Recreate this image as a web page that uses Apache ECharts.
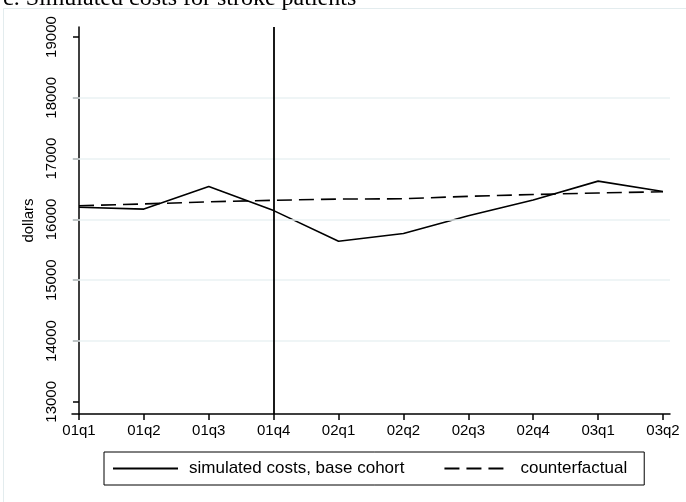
<!DOCTYPE html>
<html>
<head>
<meta charset="utf-8">
<script src="https://cdn.jsdelivr.net/npm/echarts@6/dist/echarts.min.js"></script>
<style>
  html, body { margin: 0; padding: 0; background: #fff; }
  #chart { width: 686px; height: 502px; }
</style>
</head>
<body>
<div id="chart"></div>
<script>
// 季度
var quarters = ['01q1', '01q2', '01q3', '01q4', '02q1', '02q2', '02q3', '02q4', '03q1', '03q2'];
// 模拟成本（基准队列）
var simulated = [16200, 16170, 16540, 16145, 15640, 15770, 16060, 16320, 16630, 16460];
// 反事实
var counterfactual = [16225, 16255, 16290, 16315, 16335, 16340, 16380, 16410, 16435, 16455];
// y轴刻度 / 网格线
var yTicks = [13000, 14000, 15000, 16000, 17000, 18000, 19000];
var gridValues = [14000, 15000, 16000, 17000, 18000];
// 政策线位置
var policyQuarter = '01q4';

var font = 'Liberation Sans, Arial, sans-serif';
var idx = quarters.map(function (q, i) { return i; });

function toPairs(arr) {
    return arr.map(function (v, i) { return [i, v]; });
}

var myChart = echarts.init(document.getElementById('chart'));
var option = {
    backgroundColor: '#fff',
    animation: false,
    title: {
        text: 'c. Simulated costs for stroke patients',
        left: -2,
        top: -18,
        textStyle: {
            fontFamily: 'Liberation Serif, Times New Roman, serif',
            fontSize: 24,
            fontWeight: 'normal',
            color: '#000'
        }
    },
    graphic: [{
        type: 'rect',
        shape: { x: 3.5, y: 8.5, width: 700, height: 520 },
        style: { fill: 'none', stroke: '#e3ecee', lineWidth: 1 },
        z: -1
    }],
    legend: {
        left: 104,
        top: 452,
        padding: [8, 17, 8, 8],
        borderColor: '#000',
        borderWidth: 1,
        itemWidth: 65,
        itemHeight: 17,
        itemGap: 39,
        itemStyle: { opacity: 0, borderWidth: 0 },
        textStyle: { fontFamily: font, fontSize: 17, color: '#000', padding: [0, 0, 0, 6] },
        data: ['simulated costs, base cohort', 'counterfactual']
    },
    grid: { left: 72, right: 16, top: 27, bottom: 88 },
    xAxis: {
        type: 'value',
        min: -0.108,
        max: 9.108,
        splitLine: { show: false },
        axisLine: { onZero: false, lineStyle: { color: '#000', width: 1.5 } },
        axisTick: { show: true, length: 6, customValues: idx, lineStyle: { color: '#000', width: 1.5 } },
        axisLabel: {
            customValues: idx,
            margin: 9,
            color: '#000',
            fontFamily: font,
            fontSize: 15,
            formatter: function (v) { return quarters[Math.round(v)]; }
        }
    },
    yAxis: {
        type: 'value',
        min: 12800,
        max: 19165,
        name: 'dollars',
        nameLocation: 'middle',
        nameGap: 28,
        nameTextStyle: { fontFamily: font, fontSize: 15, color: '#000' },
        splitLine: { show: false },
        axisLine: { show: true, lineStyle: { color: '#000', width: 1.5 } },
        axisTick: { show: true, length: 6, customValues: yTicks, lineStyle: { color: '#000', width: 1.5 } },
        axisLabel: {
            customValues: yTicks,
            rotate: 90,
            margin: 13,
            color: '#000',
            fontFamily: font,
            fontSize: 15,
            formatter: function (v) { return String(v); }
        }
    },
    series: [
        {
            name: 'grid',
            type: 'line',
            data: [],
            silent: true,
            z: 1,
            markLine: {
                silent: true,
                symbol: 'none',
                label: { show: false },
                lineStyle: { color: '#eaf2f3', width: 1.5, type: 'solid' },
                data: gridValues.map(function (v) { return { yAxis: v }; })
            }
        },
        {
            name: 'simulated costs, base cohort',
            type: 'line',
            data: toPairs(simulated),
            symbol: 'none',
            z: 3,
            lineStyle: { color: '#000', width: 1.6, type: 'solid' },
            itemStyle: { color: '#000' },
            markLine: {
                silent: true,
                symbol: 'none',
                label: { show: false },
                lineStyle: { color: '#000', width: 1.8, type: 'solid' },
                data: [{ xAxis: quarters.indexOf(policyQuarter) }]
            }
        },
        {
            name: 'counterfactual',
            type: 'line',
            data: toPairs(counterfactual),
            symbol: 'none',
            z: 3,
            lineStyle: { color: '#000', width: 1.6, type: [15, 7] },
            itemStyle: { color: '#000' }
        }
    ]
};
myChart.setOption(option);
</script>
</body>
</html>
